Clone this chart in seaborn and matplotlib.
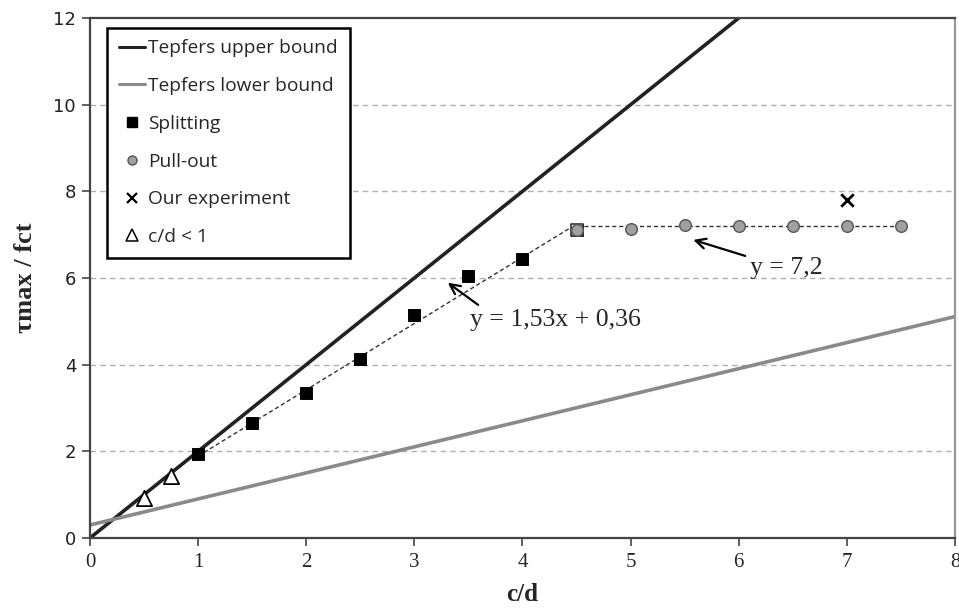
import numpy as np
import pandas as pd
import matplotlib
matplotlib.use("Agg")
import matplotlib.pyplot as plt
import seaborn as sns
from matplotlib.lines import Line2D

# ---- data ----
bound_x = [0, 8]
upper_y = [0, 16]            # Tepfers upper bound: y = 2x
lower_y = [0.30, 5.11]       # Tepfers lower bound

split_x = [1.0, 1.5, 2.0, 2.5, 3.0, 3.5, 4.0, 4.5]
split_y = [1.94, 2.66, 3.35, 4.13, 5.15, 6.05, 6.44, 7.11]

pull_x = [4.5, 5.0, 5.5, 6.0, 6.5, 7.0, 7.5]
pull_y = [7.11, 7.14, 7.23, 7.20, 7.20, 7.21, 7.21]

exp_x = [7.0]
exp_y = [7.80]

small_x = [0.5, 0.75]
small_y = [0.92, 1.43]

trend1_x = [1.0, 4.5]
trend1_y = [1.53 * 1.0 + 0.36, 1.53 * 4.5 + 0.36]
trend2_x = [4.5, 7.5]
trend2_y = [7.2, 7.2]

x_ticks = [0, 1, 2, 3, 4, 5, 6, 7, 8]
y_ticks = [0, 2, 4, 6, 8, 10, 12]

# ---- style ----
sns.set_theme(style="white")
plt.rcParams["font.family"] = ["Liberation Serif", "DejaVu Serif"]

fig = plt.figure(figsize=(9.59, 6.09), dpi=100)
ax = fig.add_axes([0.0938, 0.1166, 0.9020, 0.8538])

# grid
for yv in y_ticks[1:-1]:
    ax.axhline(yv, color="#b0b0b0", lw=1.0, ls=(0, (4, 3)), zorder=0)

sns.lineplot(x=bound_x, y=upper_y, ax=ax, color="#222222", lw=2.6, zorder=2)
sns.lineplot(x=bound_x, y=lower_y, ax=ax, color="#8a8a8a", lw=2.6, zorder=2)

sns.lineplot(x=trend1_x, y=trend1_y, ax=ax, color="#333333", lw=1.0,
             linestyle=(0, (3, 2)), zorder=3)
sns.lineplot(x=trend2_x, y=trend2_y, ax=ax, color="#333333", lw=1.0,
             linestyle=(0, (3, 2)), zorder=3)

sns.scatterplot(x=split_x, y=split_y, ax=ax, marker="s", s=70,
                color="black", edgecolor="black", zorder=4)
sns.scatterplot(x=[split_x[-1]], y=[split_y[-1]], ax=ax, marker="s", s=70,
                color="white", edgecolor="#333333", linewidth=1.2, zorder=4)
sns.scatterplot(x=pull_x, y=pull_y, ax=ax, marker="o", s=70,
                color="#a0a0a0", edgecolor="#555555", linewidth=1.0, zorder=5)
sns.scatterplot(x=exp_x, y=exp_y, ax=ax, marker="x", s=80,
                color="black", linewidth=2.0, zorder=5)
sns.scatterplot(x=small_x, y=small_y, ax=ax, marker="^", s=120,
                color="white", edgecolor="black", linewidth=1.3, zorder=5)

ax.set_xlim(0, 8)
ax.set_ylim(0, 12)
ax.set_xticks(x_ticks)
ax.set_yticks(y_ticks)
ax.set_xticklabels([str(v) for v in x_ticks], fontsize=15,
                   family=["Liberation Serif"])
ax.set_yticklabels([str(v) for v in y_ticks], fontsize=13,
                   family=["DejaVu Sans"], color="#222222")
ax.tick_params(axis="both", which="both", direction="out", length=6,
               width=1.2, color="#444444", bottom=True, left=True, pad=4)
ax.tick_params(axis="x", pad=5)

for side in ["left", "bottom", "top"]:
    ax.spines[side].set_color("#444444")
    ax.spines[side].set_linewidth(1.6)
ax.spines["right"].set_color("#999999")
ax.spines["right"].set_linewidth(1.6)

ax.set_xlabel("c/d", fontsize=18, fontweight="bold", labelpad=8)
ax.set_ylabel("τmax / fct", fontsize=19, fontweight="bold", labelpad=12)

# annotations
arrow = dict(arrowstyle="->", color="black", lw=1.6,
             shrinkA=0, shrinkB=0, mutation_scale=18)
ax.annotate("", xy=(3.31, 5.89), xytext=(3.59, 5.38), arrowprops=arrow)
ax.text(3.515, 5.03, "y = 1,53x + 0,36", fontsize=18.5, ha="left",
        va="center")
ax.annotate("", xy=(5.58, 6.88), xytext=(6.06, 6.51), arrowprops=arrow)
ax.text(6.10, 6.22, "y = 7,2", fontsize=18.5, ha="left", va="center")

# legend
handles = [
    Line2D([], [], color="#222222", lw=2.2),
    Line2D([], [], color="#8a8a8a", lw=2.2),
    Line2D([], [], color="black", marker="s", ls="none", markersize=6.5),
    Line2D([], [], color="#a0a0a0", marker="o", markeredgecolor="#555555",
           ls="none", markersize=6.5),
    Line2D([], [], color="black", marker="x", ls="none", markersize=7.5,
           markeredgewidth=1.6),
    Line2D([], [], color="white", marker="^", markeredgecolor="black",
           ls="none", markersize=9, markeredgewidth=1.1),
]
labels = ["Tepfers upper bound", "Tepfers lower bound", "Splitting",
          "Pull-out", "Our experiment", "c/d < 1"]
leg = ax.legend(handles, labels, loc="upper left",
                bbox_to_anchor=(0.02, 0.981), frameon=True, fancybox=False,
                edgecolor="black", framealpha=1, handlelength=1.35,
                handletextpad=0.2, labelspacing=1.03, borderpad=0.6,
                borderaxespad=0.0,
                prop={"family": ["Open Sans", "DejaVu Sans"], "size": 13.8})
leg.get_frame().set_linewidth(1.8)

fig.savefig("out.png", dpi=100)
